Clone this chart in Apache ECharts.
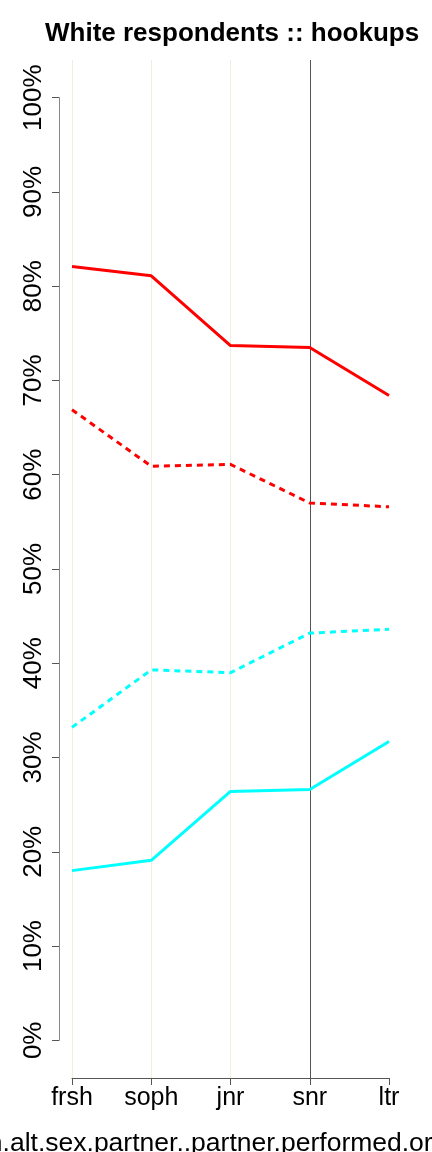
<!DOCTYPE html>
<html>
<head>
<meta charset="utf-8">
<script src="https://cdn.jsdelivr.net/npm/echarts@6/dist/echarts.min.js"></script>
<style>
  html, body { margin: 0; padding: 0; background: #fff; }
  #main { width: 432px; height: 1152px; }
</style>
</head>
<body>
<div id="main"></div>
<script>
const categories = ['frsh', 'soph', 'jnr', 'snr', 'ltr']
const redSolid = [82.1, 81.1, 73.7, 73.5, 68.4]
const redDashed = [66.9, 60.9, 61.1, 57.0, 56.6]
const cyanDashed = [33.2, 39.3, 39.0, 43.2, 43.6]
const cyanSolid = [18.0, 19.1, 26.4, 26.6, 31.7]
const yTicks = [0, 10, 20, 30, 40, 50, 60, 70, 80, 90, 100]

const font = 'Liberation Sans, Arial, Helvetica, sans-serif'
const gridTop = 60
const gridBottom = 74
const pad = 4 * 1018 / 108 // room below 0% and above 100%

const lineSeries = (name, data, color, dashed) => ({
  name,
  type: 'line',
  xAxisIndex: 0,
  yAxisIndex: 0,
  data,
  symbol: 'none',
  silent: true,
  lineStyle: {
    color,
    width: 3,
    type: dashed ? [6, 5] : 'solid'
  }
})

const myChart = echarts.init(document.getElementById('main'))
myChart.setOption({
  animation: false,
  title: {
    text: 'White respondents :: hookups',
    left: 40,
    top: 16,
    textStyle: { fontFamily: font, fontSize: 26, fontWeight: 'bold', color: '#000' }
  },
  grid: [
    { left: 72, right: 43, top: gridTop, bottom: gridBottom, outerBoundsMode: 'none', containLabel: false },
    { left: 59, right: 360, top: gridTop + pad, bottom: gridBottom + pad, outerBoundsMode: 'none', containLabel: false }
  ],
  xAxis: [
    {
      gridIndex: 0,
      type: 'category',
      data: categories,
      boundaryGap: false,
      name: 'on.alt.sex.partner..partner.performed.oral.sex',
      nameLocation: 'middle',
      nameGap: 52,
      nameTextStyle: { fontFamily: font, fontSize: 26.5, color: '#000', padding: [0, 0, 0, 14] },
      axisLine: { show: true, onZero: false, lineStyle: { color: '#555', width: 1 } },
      axisTick: { show: true, length: 7, lineStyle: { color: '#555' } },
      axisLabel: { fontFamily: font, fontSize: 25, color: '#000', margin: 8 },
      splitLine: {
        show: true,
        lineStyle: { color: ['#f0eedf', '#f0eedf', '#f0eedf', '#555', 'rgba(0,0,0,0)'], width: 1 }
      }
    },
    { gridIndex: 1, type: 'value', show: false }
  ],
  yAxis: [
    { gridIndex: 0, type: 'value', min: -4, max: 104, show: false },
    {
      gridIndex: 1,
      type: 'value',
      min: 0,
      max: 100,
      interval: 10,
      axisLine: { show: true, lineStyle: { color: '#888', width: 1 } },
      axisTick: { show: true, length: 7, lineStyle: { color: '#555' } },
      axisLabel: {
        fontFamily: font,
        fontSize: 26,
        color: '#000',
        rotate: 90,
        margin: 12,
        customValues: yTicks,
        formatter: '{value}%'
      },
      splitLine: { show: false }
    }
  ],
  series: [
    lineSeries('red solid', redSolid, '#ff0000', false),
    lineSeries('red dashed', redDashed, '#ff0000', true),
    lineSeries('cyan dashed', cyanDashed, '#00ffff', true),
    lineSeries('cyan solid', cyanSolid, '#00ffff', false)
  ]
})
</script>
</body>
</html>
